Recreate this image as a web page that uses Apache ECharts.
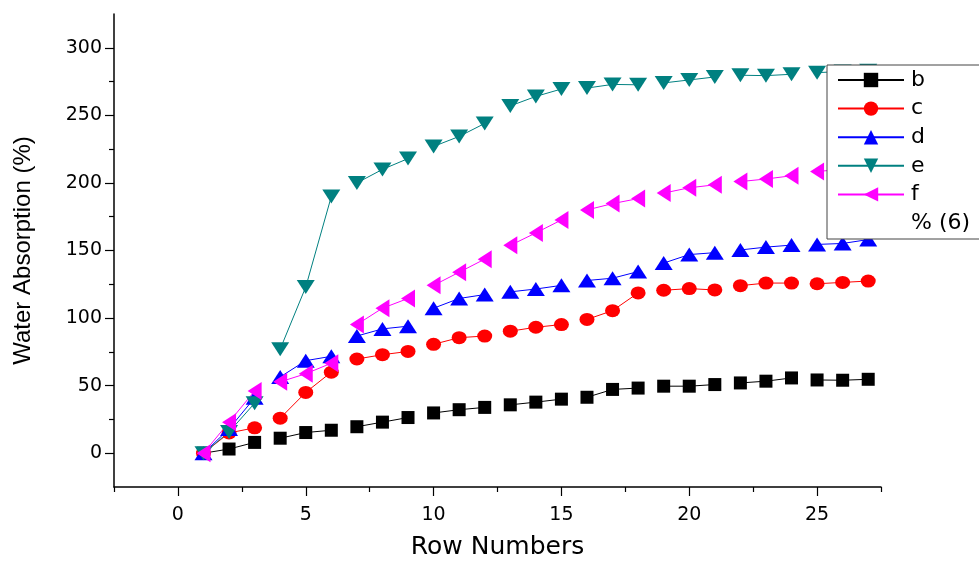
<!DOCTYPE html>
<html>
<head>
<meta charset="utf-8">
<script src="https://cdn.jsdelivr.net/npm/echarts@6/dist/echarts.min.js"></script>
<style>html,body{margin:0;padding:0;background:#fff}#c{width:979px;height:565px}</style>
</head>
<body>
<div id="c"></div>
<script>
const rows = [1,2,3,4,5,6,7,8,9,10,11,12,13,14,15,16,17,18,19,20,21,22,23,24,25,26,27];
const b = [0, 3.1, 8, 11.1, 15.3, 17, 19.6, 23, 26.4, 29.8, 32.2, 33.9, 35.8, 37.8, 40, 41.4, 47.2, 48.2, 49.6, 49.6, 50.8, 52, 53.3, 55.7, 54.2, 54, 54.7];
const c = [0, 15, 18.8, 25.9, 45, 60, 69.7, 72.9, 75.3, 80.6, 85.5, 86.7, 90.3, 93.2, 95.2, 99, 105.5, 118.6, 120.6, 121.8, 120.8, 124, 125.9, 125.9, 125.4, 126.4, 127.4];
const d = [0, 18, 41, 56.4, 68.5, 71.7, 86.7, 92, 94, 107.3, 114.5, 117.4, 119.4, 121.5, 124.2, 127.8, 129.5, 134.4, 140.7, 147, 148.4, 150.4, 152.5, 154, 154.5, 155.2, 158.1];
const e = [0, 15.7, 37, 77, 123, 190, 200, 210, 218, 227, 234.4, 244, 257, 264, 269.5, 270.2, 272.9, 272.6, 274, 276.2, 278.4, 279.7, 279.4, 280.4, 281.6, 282.5, 283];
const f = [0, 23, 46, 52.8, 58.8, 66.6, 95.2, 107.3, 114.5, 124.2, 133.9, 143.6, 153.8, 163, 172.6, 180, 184.7, 188.4, 192.5, 196.4, 198.6, 201, 202.9, 205.3, 208.5, 210, 212];
const groupSize = 3;
const yMajorTicks = [0, 50, 100, 150, 200, 250, 300];
const yMinorTicks = [25, 75, 125, 175, 225, 275];
const xMajorTicks = [0, 5, 10, 15, 20, 25];
const xMinorTicks = [-2.5, 2.5, 7.5, 12.5, 17.5, 22.5, 27.5];

function build(vals) {
  const out = [];
  rows.forEach((r, i) => {
    if (i > 0 && i % groupSize === 0) out.push([r - 0.5, '-']);
    out.push([r, vals[i]]);
  });
  return out;
}

const FONT = 'DejaVu Sans';
const FONT2 = 'Liberation Sans';
function mk(name, vals, color, symbol, size, rot) {
  return {
    name, type: 'line', data: build(vals), connectNulls: false,
    symbol, symbolSize: size, symbolRotate: rot,
    lineStyle: { color, width: 1 }, itemStyle: { color },
    emphasis: { disabled: true }, animation: false, z: 2
  };
}

const chart = echarts.init(document.getElementById('c'));
const baseY = { type: 'value', min: -25, max: 325, splitLine: { show: false } };
const baseX = { type: 'value', min: -2.5, max: 27.5, splitLine: { show: false } };
chart.setOption({
  animation: false,
  grid: { left: 114, right: 98, top: 14, bottom: 70, containLabel: false },
  xAxis: [
    Object.assign({}, baseX, {
      axisLine: { show: true, onZero: false, lineStyle: { color: '#000', width: 1.5 } },
      axisTick: { show: true, customValues: xMajorTicks, length: 9, lineStyle: { color: '#000', width: 1.2 } },
      axisLabel: { show: true, customValues: xMajorTicks, color: '#000', fontSize: 19, fontFamily: FONT, margin: 19 },
      name: 'Row Numbers', nameLocation: 'middle', nameGap: 48,
      nameTextStyle: { color: '#000', fontSize: 25, fontFamily: FONT }
    }),
    Object.assign({}, baseX, {
      position: 'bottom',
      axisLine: { show: false, onZero: false },
      axisTick: { show: true, customValues: xMinorTicks, length: 5, lineStyle: { color: '#000', width: 1.2 } },
      axisLabel: { show: false }
    })
  ],
  yAxis: [
    Object.assign({}, baseY, {
      axisLine: { show: true, onZero: false, lineStyle: { color: '#000', width: 1.5 } },
      axisTick: { show: true, customValues: yMajorTicks, length: 9, lineStyle: { color: '#000', width: 1.2 } },
      axisLabel: { show: true, customValues: yMajorTicks, color: '#000', fontSize: 19, fontFamily: FONT, margin: 12 },
      name: 'Water Absorption (%)', nameLocation: 'middle', nameGap: 79, nameRotate: 90,
      nameTextStyle: { color: '#000', fontSize: 24, fontFamily: FONT2 }
    }),
    Object.assign({}, baseY, {
      position: 'left',
      axisLine: { show: false, onZero: false },
      axisTick: { show: true, customValues: yMinorTicks, length: 5, lineStyle: { color: '#000', width: 1.2 } },
      axisLabel: { show: false }
    })
  ],
  legend: {
    orient: 'vertical', left: 827, top: 65,
    padding: [4, 120, 5, 10],
    backgroundColor: '#fff', borderColor: '#444', borderWidth: 1, borderRadius: 0,
    itemWidth: 66, itemHeight: 18, itemGap: 6.6,
    textStyle: { color: '#000', fontSize: 22, fontFamily: FONT, padding: [0, 0, 0, 2] },
    data: ['b', 'c', 'd', 'e', 'f', { name: '% (6)', icon: 'none' }],
    selectedMode: false, z: 10
  },
  series: [
    mk('b', b, '#000000', 'rect', [13, 13], 0),
    mk('c', c, '#ff0000', 'circle', [15, 13], 0),
    mk('d', d, '#0000ff', 'triangle', [18, 14], 0),
    mk('e', e, '#008080', 'triangle', [18, 14], 180),
    mk('f', f, '#ff00ff', 'triangle', [18, 14], 90),
    { name: '% (6)', type: 'line', data: [], symbol: 'none' }
  ]
});
</script>
</body>
</html>
